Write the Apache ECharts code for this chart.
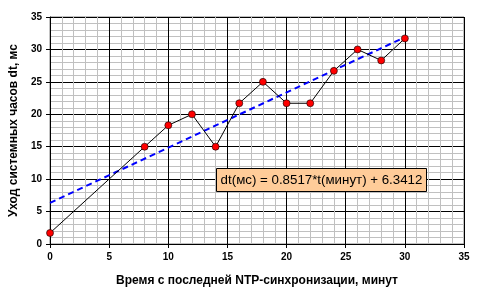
<!DOCTYPE html>
<html><head><meta charset="utf-8">
<script src="https://cdn.jsdelivr.net/npm/echarts@6/dist/echarts.min.js"></script>
<style>html,body{margin:0;padding:0;background:#fff}#c{width:481px;height:299px}</style>
</head><body><div id="c"></div>
<script>
var xTimes = [0, 8, 10, 12, 14, 16, 18, 20, 22, 24, 26, 28, 30];
var yDrift = [1.7, 15, 18.3, 20, 15, 21.7, 25, 21.7, 21.7, 26.7, 30, 28.3, 31.7];
var trendSlope = 0.8517;
var trendIntercept = 6.3412;
var trendX = [0, 30];
var xTitle = 'Время с последней NTP-синхронизации, минут';
var yTitle = 'Уход системных часов dt, мс';
var eqText = 'dt(мс) = 0.8517*t(минут) + 6.3412';

var pts = xTimes.map(function(x, i){ return [x, yDrift[i]]; });
var trend = trendX.map(function(x){ return [x, trendSlope * x + trendIntercept]; });

var chart = echarts.init(document.getElementById('c'), null, {renderer:'canvas'});
var axisCommon = {
  type:'value', min:0, max:35, interval:5,
  axisLine:{show:true, onZero:false, lineStyle:{color:'#000', width:1}},
  axisTick:{show:true, inside:false, length:4, lineStyle:{color:'#000'}},
  axisLabel:{color:'#000', fontFamily:'Liberation Sans', fontWeight:'bold', fontSize:10},
  splitLine:{show:true, lineStyle:{color:'#000', width:1}},
  minorTick:{show:false, splitNumber:5},
  minorSplitLine:{show:true, lineStyle:{color:'#c0c0c0', width:1}},
  nameLocation:'middle',
  nameTextStyle:{color:'#000', fontFamily:'Liberation Sans', fontWeight:'bold', fontSize:12}
};
chart.setOption({
  animation:false,
  grid:{left:50, right:17, top:17, bottom:55, show:true, borderColor:'#808080', borderWidth:1, backgroundColor:'transparent'},
  xAxis:Object.assign({}, axisCommon, {name:xTitle, nameGap:31, axisLabel:Object.assign({}, axisCommon.axisLabel, {margin:8})}),
  yAxis:Object.assign({}, axisCommon, {name:yTitle, nameGap:25, axisLabel:Object.assign({}, axisCommon.axisLabel, {margin:8})}),
  series:[
    {type:'line', data:trend, symbol:'none', z:3,
     lineStyle:{color:'#0000ff', width:2, type:[6,4]}},
    {type:'line', data:pts, symbol:'circle', symbolSize:7, z:4,
     lineStyle:{color:'#000', width:1},
     itemStyle:{color:'#ff0000', borderColor:'#000', borderWidth:0.6}}
  ],
  graphic:[
    {type:'rect', shape:{x:216.5, y:168.5, width:210, height:23}, z:10,
     style:{fill:'#ffcc99', stroke:'#000', lineWidth:1}},
    {type:'text', x:321.5, y:180.5, z:11,
     style:{text:eqText, fill:'#000', font:'13.3px "Liberation Sans"', align:'center', verticalAlign:'middle'}}
  ]
});
</script></body></html>
